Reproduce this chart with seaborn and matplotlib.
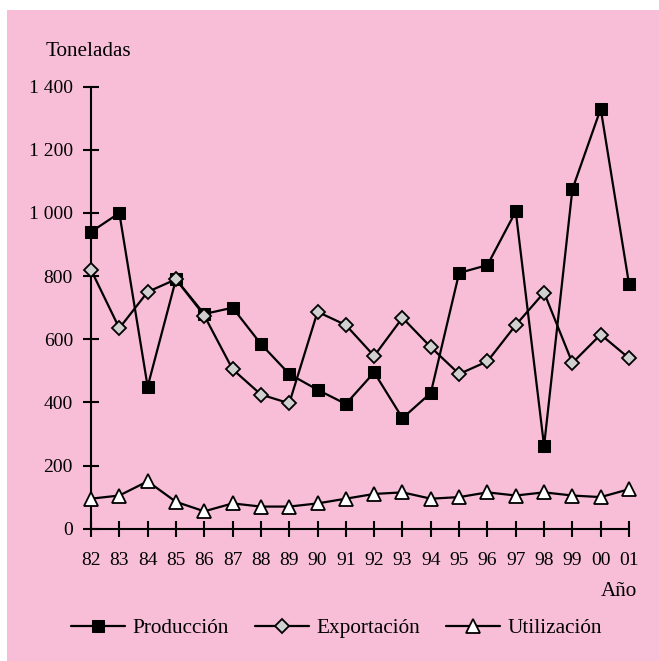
import matplotlib
matplotlib.use('Agg')
import matplotlib.pyplot as plt
import matplotlib.patches as mpatches
import seaborn as sns
import pandas as pd

# Datos (toneladas por año)
anios = ['82', '83', '84', '85', '86', '87', '88', '89', '90', '91',
         '92', '93', '94', '95', '96', '97', '98', '99', '00', '01']
produccion = [940, 1000, 450, 790, 680, 700, 585, 490, 440, 395,
              495, 350, 430, 810, 835, 1005, 262, 1075, 1330, 775]
exportacion = [820, 635, 750, 790, 675, 505, 425, 397, 687, 645,
               547, 668, 575, 490, 530, 645, 748, 525, 615, 540]
utilizacion = [95, 105, 150, 85, 55, 80, 70, 70, 80, 95,
               110, 115, 95, 100, 115, 105, 115, 105, 100, 125]
y_ticks = [0, 200, 400, 600, 800, 1000, 1200, 1400]

sns.set_style('ticks')
plt.rcParams['font.family'] = ['Liberation Serif', 'DejaVu Serif']
plt.rcParams['text.color'] = 'black'

rosa = '#F8BED7'
fig = plt.figure(figsize=(6.59, 6.61), dpi=100)
fig.patch.set_facecolor('white')
fig.patches.append(mpatches.Rectangle((7 / 659, 0), 1 - 7 / 659, 1 - 10 / 661,
                                      transform=fig.transFigure, facecolor=rosa,
                                      edgecolor='none', zorder=-10))

ax = fig.add_axes([0.1381, 0.2002, 0.8164, 0.6686])
ax.set_facecolor('none')

df = pd.DataFrame({'x': range(len(anios)), 'prod': produccion,
                   'exp': exportacion, 'uti': utilizacion})

estilos = [
    ('prod', 'Producción', dict(marker='s', markersize=9, markerfacecolor='black',
                                markeredgecolor='black')),
    ('exp', 'Exportación', dict(marker='D', markersize=7, markerfacecolor='#D0D0D0',
                                markeredgecolor='black', markeredgewidth=1.3)),
    ('uti', 'Utilización', dict(marker='^', markersize=10, markerfacecolor='white',
                                markeredgecolor='black', markeredgewidth=1.3)),
]
for col, nombre, kw in estilos:
    sns.lineplot(data=df, x='x', y=col, ax=ax, color='black', linewidth=1.6,
                 label=nombre, clip_on=False, zorder=3, **kw)

ax.set_xlim(0, len(anios) - 1)
ax.set_ylim(0, 1400)
ax.set_xticks(range(len(anios)))
ax.set_xticklabels(anios)
ax.set_yticks(y_ticks)
ax.set_yticklabels([f'{v:,}'.replace(',', ' ') for v in y_ticks])
ax.set_xlabel('')
ax.set_ylabel('')
sns.despine(ax=ax)
for s in ['left', 'bottom']:
    ax.spines[s].set_linewidth(1.5)
    ax.spines[s].set_color('black')
ax.tick_params(axis='both', direction='inout', length=11, width=1.5,
               labelsize=14, colors='black')
ax.tick_params(axis='y', pad=7.5)
ax.tick_params(axis='x', pad=11)

fig.text(46 / 659, 1 - 52 / 661, 'Toneladas', fontsize=15.2, va='center', ha='left')
fig.text(637 / 659, 1 - 592 / 661, 'Año', fontsize=15.2, va='center', ha='right')

h, l = ax.get_legend_handles_labels()
ax.get_legend().remove()
fig.legend(h, l, loc='center left', bbox_to_anchor=(71 / 659, 1 - 628 / 661),
           ncol=3, frameon=False, fontsize=15.3, handlelength=2.55,
           handletextpad=0.36, columnspacing=1.2, borderpad=0, borderaxespad=0)

fig.savefig('out.png', dpi=100)
